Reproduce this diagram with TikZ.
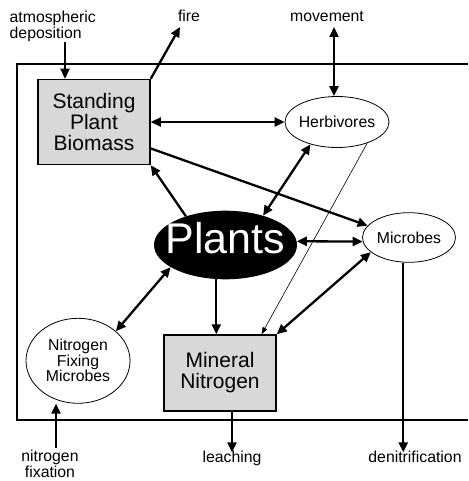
\documentclass[tikz,border=0pt]{standalone}
\usepackage{fontspec}
\setmainfont{Liberation Sans}
\usetikzlibrary{arrows.meta,shapes.geometric}
\definecolor{boxgray}{RGB}{216,216,216}
\begin{document}
\begin{tikzpicture}[x=1pt,y=-1pt,
  box/.style={draw, line width=1.5pt, fill=boxgray, minimum width=112pt, inner sep=0pt, align=center, font=\fontsize{21}{21}\selectfont},
  oval/.style={draw, ellipse, line width=0.8pt, inner sep=-10pt, align=center, font=\fontsize{15.8}{15.5}\selectfont},
  lbl/.style={inner sep=0pt, font=\fontsize{15.8}{15.5}\selectfont},
  arr/.style={-{Triangle[length=10pt,width=9pt]}, line width=2.3pt},
  darr/.style={{Triangle[length=10pt,width=9pt]}-{Triangle[length=10pt,width=9pt]}, line width=2.3pt},
  thinarr/.style={-{Triangle[length=7pt,width=5pt]}, line width=0.6pt}
]
\useasboundingbox (0,0) rectangle (468,481);
% system boundary
\draw[line width=1.3pt] (468,64) -- (17,64) -- (17,420) -- (468,420);

% nodes
\node[box, minimum height=85pt] (spb) at (94,122) {Standing\\Plant\\Biomass};
\node[box, minimum height=76pt] (mn) at (220,373) {Mineral\\Nitrogen};
\node[oval, minimum width=104pt, minimum height=51pt] (herb) at (337,122) {Herbivores};
\node[ellipse, fill=black, inner sep=-10pt, minimum width=143pt, minimum height=68.6pt, text=white, text depth=13.4pt, font=\fontsize{43}{43}\selectfont] (plants) at (225.5,245) {Plants};
\node[oval, minimum width=93pt, minimum height=49.6pt] (mic) at (409,237.5) {Microbes};
\node[oval, minimum width=104pt, minimum height=85pt] (nfm) at (78,360.8) {Nitrogen\\Fixing\\Microbes};

% outside labels
\node[lbl, anchor=north west, align=left] (atm) at (9.5,11) {atmospheric\\deposition};
\node[lbl, anchor=base] (fire) at (189,22) {fire};
\node[lbl, anchor=base] (mov) at (327,22) {movement};
\node[lbl, anchor=north, align=center] (nfix) at (50,450) {nitrogen\\fixation};
\node[lbl, anchor=base] (leach) at (232,462) {leaching};
\node[lbl, anchor=base] (denit) at (415,462) {denitrification};

% free ends
\coordinate (atmend) at (65,42);
\coordinate (fireend) at (180,27);
\coordinate (movend) at (334,27);
\coordinate (nfixend) at (56,448);

% connectors
\draw[arr] (atmend) -- (atmend |- spb.north);
\draw[arr] (spb.north east) -- (fireend);
\draw[darr] (movend) -- (movend |- herb.north);
\draw[darr] (spb.east) -- (herb.west);
\draw[arr] (spb.-25) -- (mic.164);
\draw[arr] (plants.144) -- (spb.south east);
\draw[darr] (plants.38) -- (herb.220);
\draw[thinarr] (herb.-35) -- (mn.43);
\draw[darr] (plants.3) -- (mic.185.5);
\draw[darr] (mic.201) -- (mn.north east);
\draw[arr] (plants.-105.6) -- (plants.-105.6 |- mn.north);
\draw[darr] (plants.202) -- (nfm.38);
\draw[arr] (nfixend) -- (nfixend |- nfm.south);
\draw[arr] (leach.north |- mn.south) -- ([yshift=-2pt]leach.north);
\draw[arr] (mic.-103) -- ([yshift=-2pt]mic.-103 |- denit.north);
\end{tikzpicture}
\end{document}
